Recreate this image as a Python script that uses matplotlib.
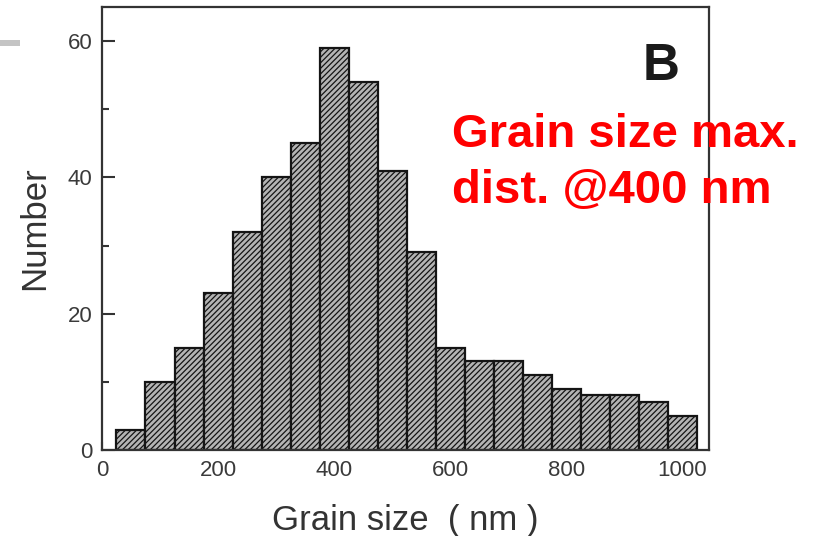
import numpy as np
import matplotlib
matplotlib.use("Agg")
import matplotlib.pyplot as plt
from matplotlib.patches import Rectangle

# histogram bins (nm) and counts
bin_centers = [50, 100, 150, 200, 250, 300, 350, 400, 450, 500,
               550, 600, 650, 700, 750, 800, 850, 900, 950, 1000]
counts = [3, 10, 15, 23, 32, 40, 45, 59, 54, 41,
          29, 15, 13, 13, 11, 9, 8, 8, 7, 5]
bin_width = 50

x_ticks = [0, 200, 400, 600, 800, 1000]
y_ticks = [0, 20, 40, 60]

plt.rcParams["font.family"] = ["Liberation Sans", "DejaVu Sans"]
plt.rcParams["hatch.linewidth"] = 0.9
plt.rcParams["hatch.color"] = "#4a4a4a"

fig = plt.figure(figsize=(8.17, 5.36), dpi=100)
ax = fig.add_axes([0.1248, 0.1604, 0.7430, 0.8266])

ax.bar(bin_centers, counts, width=bin_width, color="#b4b4b4",
       edgecolor="#151515", linewidth=1.6, hatch="//////", zorder=2)

ax.set_xlim(0, 1046)
ax.set_ylim(0, 65)
ax.set_xticks(x_ticks)
ax.set_xticks(np.arange(100, 1001, 200), minor=True)
ax.set_yticks(y_ticks)
ax.set_yticks([10, 30, 50], minor=True)
ax.tick_params(which="both", direction="in", colors="#333333",
               labelsize=16, labelcolor="#3a3a3a", width=1.5)
ax.tick_params(which="major", length=9, pad=7)
ax.tick_params(which="minor", length=5)
ax.tick_params(axis="x", which="major", length=6)
ax.tick_params(axis="x", which="minor", length=4)
for s in ax.spines.values():
    s.set_linewidth(1.6)
    s.set_color("#333333")

ax.set_xlabel("Grain size  ( nm )", fontsize=25, color="#333333", labelpad=17)
ax.set_ylabel("Number", fontsize=25, color="#333333", labelpad=12)

fig.text(0.787, 0.851, "B", fontsize=37, fontweight="bold", color="#1a1a1a",
         va="baseline", ha="left")
fig.text(0.553, 0.726, "Grain size max.", fontsize=34, fontweight="bold",
         color="#ff0000", va="baseline", ha="left")
fig.text(0.553, 0.621, "dist. @400 nm", fontsize=34, fontweight="bold",
         color="#ff0000", va="baseline", ha="left")

# slide decoration at top left
fig.patches.append(Rectangle((0, 0.914), 0.0245, 0.012, transform=fig.transFigure,
                             facecolor="#c4c4c4", edgecolor="none"))

plt.savefig("out.png", dpi=100)
plt.close()
